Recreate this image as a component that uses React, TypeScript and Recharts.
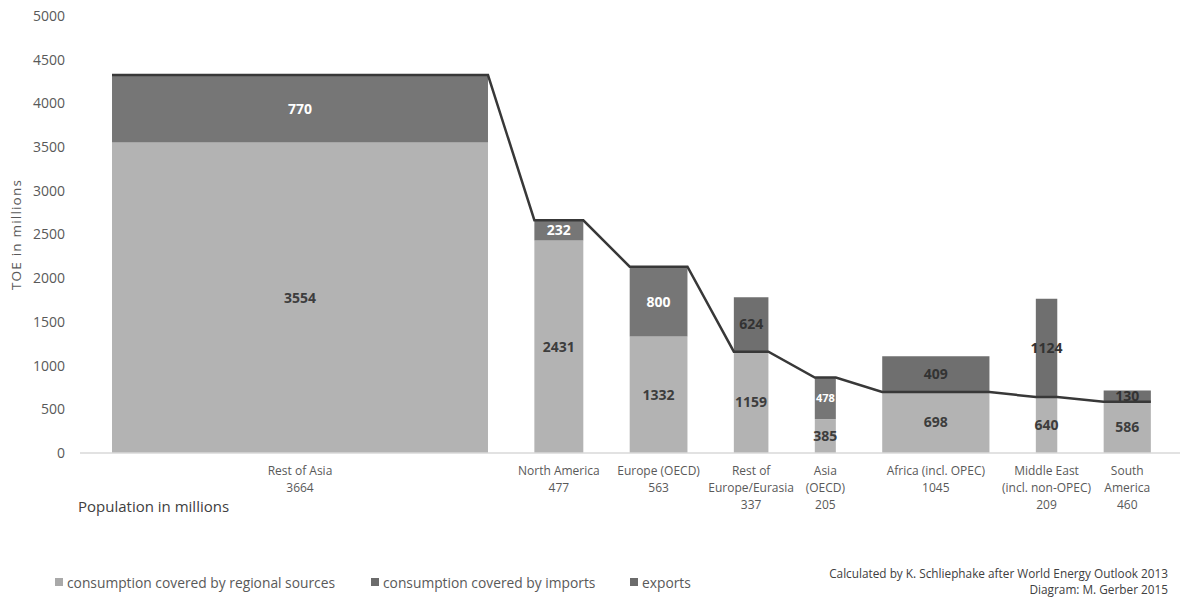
import React from "react";
import { ComposedChart, Line, XAxis, YAxis, ReferenceArea } from "recharts";

const regionLabels = [
  ["Rest of Asia"],
  ["North America"],
  ["Europe (OECD)"],
  ["Rest of", "Europe/Eurasia"],
  ["Asia", "(OECD)"],
  ["Africa (incl. OPEC)"],
  ["Middle East", "(incl. non-OPEC)"],
  ["South", "America"],
];
const population = [3664, 477, 563, 337, 205, 1045, 209, 460];
const regional = [3554, 2431, 1332, 1159, 385, 698, 640, 586];
const imports = [770, 232, 800, 0, 478, 0, 0, 0];
const exportsVals = [0, 0, 0, 624, 0, 409, 1124, 130];
const yTicks = [0, 500, 1000, 1500, 2000, 2500, 3000, 3500, 4000, 4500, 5000];

const LEAD = 312;
const GAP = 452;
const XMAX = 10720;

const C_REGIONAL = "#b3b3b3";
const C_IMPORTS = "#767676";
const C_EXPORTS = "#6f6f6f";
const INK = "#595959";
const FONT = '"Open Sans", sans-serif';

// x extents of each variable-width column, in population units
const spans = (() => {
  let x = LEAD;
  return population.map((p) => {
    const s = { x1: x, x2: x + p };
    x += p + GAP;
    return s;
  });
})();
const centers = spans.map((s) => (s.x1 + s.x2) / 2);

const lineData = spans.flatMap((s, i) => [
  { x: s.x1, cons: regional[i] + imports[i] },
  { x: s.x2, cons: regional[i] + imports[i] },
]);

function RegionTick(props: any) {
  const { x, y, payload } = props;
  const i = centers.indexOf(payload.value);
  if (i < 0) return null;
  const lines = [...regionLabels[i], String(population[i])];
  return (
    <text x={x} y={y} textAnchor="middle" fill={INK} fontSize={12} fontFamily={FONT}>
      {lines.map((l, k) => (
        <tspan key={k} x={x} dy={k === 0 ? 22 : 17}>
          {l}
        </tspan>
      ))}
    </text>
  );
}

const lbl = (value: number, fill: string, size = 14) => ({
  value,
  position: "center" as const,
  fill,
  fontSize: size,
  fontWeight: 700,
  fontFamily: FONT,
});

export default function App() {
  return (
    <div
      style={{
        position: "absolute",
        left: 0,
        top: 0,
        width: 1183,
        height: 601,
        background: "#fff",
        fontFamily: FONT,
      }}
    >
      <ComposedChart
        width={1183}
        height={601}
        data={lineData}
        margin={{ top: 16, right: 3, left: 0, bottom: 88 }}
      >
        <XAxis
          dataKey="x"
          type="number"
          domain={[0, XMAX]}
          ticks={centers}
          interval={0}
          tick={<RegionTick />}
          tickLine={false}
          tickSize={0}
          tickMargin={0}
          axisLine={{ stroke: "#d9d9d9", strokeWidth: 1.5 }}
          height={60}
        />
        <YAxis
          type="number"
          domain={[0, 5000]}
          ticks={yTicks}
          interval={0}
          width={80}
          axisLine={false}
          tickLine={false}
          tickSize={0}
          tickMargin={15}
          tick={{ fontSize: 14, fill: INK, fontFamily: FONT }}
          label={{
            value: "TOE in millions",
            angle: -90,
            position: "insideLeft",
            offset: 16,
            fontSize: 13.5,
            fill: INK,
            fontFamily: FONT,
            letterSpacing: 1.2,
            style: { textAnchor: "middle" },
          }}
        />
        {spans.map((s, i) => (
          <ReferenceArea
            key={`r${i}`}
            x1={s.x1}
            x2={s.x2}
            y1={0}
            y2={regional[i]}
            fill={C_REGIONAL}
            fillOpacity={1}
            stroke="none"
            label={lbl(regional[i], "#3d3d3d")}
          />
        ))}
        {spans.map((s, i) =>
          imports[i] > 0 ? (
            <ReferenceArea
              key={`i${i}`}
              x1={s.x1}
              x2={s.x2}
              y1={regional[i]}
              y2={regional[i] + imports[i]}
              fill={C_IMPORTS}
              fillOpacity={1}
              stroke="none"
              label={lbl(imports[i], "#ffffff", s.x2 - s.x1 < 300 ? 11 : 14)}
            />
          ) : null
        )}
        {spans.map((s, i) =>
          exportsVals[i] > 0 ? (
            <ReferenceArea
              key={`e${i}`}
              x1={s.x1}
              x2={s.x2}
              y1={regional[i]}
              y2={regional[i] + exportsVals[i]}
              fill={C_EXPORTS}
              fillOpacity={1}
              stroke="none"
              label={lbl(exportsVals[i], "#333333")}
            />
          ) : null
        )}
        <Line
          type="linear"
          dataKey="cons"
          stroke="#383838"
          strokeWidth={2.5}
          dot={false}
          activeDot={false}
          isAnimationActive={false}
        />
      </ComposedChart>

      <div
        style={{
          position: "absolute",
          left: 78,
          top: 496,
          fontSize: 15,
          lineHeight: "20px",
          color: "#404040",
        }}
      >
        Population in millions
      </div>

      {[
        { x: 55, c: "#a9a9a9", t: "consumption covered by regional sources" },
        { x: 371, c: "#6b6b6b", t: "consumption covered by imports" },
        { x: 630, c: "#6b6b6b", t: "exports" },
      ].map((it) => (
        <div
          key={it.t}
          style={{
            position: "absolute",
            left: it.x,
            top: 572,
            height: 20,
            display: "flex",
            alignItems: "center",
            fontSize: 13.8,
            color: INK,
            whiteSpace: "nowrap",
          }}
        >
          <span style={{ width: 8, height: 8, background: it.c, marginRight: 4 }} />
          {it.t}
        </div>
      ))}

      <div
        style={{
          position: "absolute",
          right: 15,
          top: 565,
          textAlign: "right",
          fontSize: 11.8,
          lineHeight: "16px",
          color: "#404040",
        }}
      >
        Calculated by K. Schliephake after World Energy Outlook 2013
        <br />
        Diagram: M. Gerber 2015
      </div>
    </div>
  );
}
